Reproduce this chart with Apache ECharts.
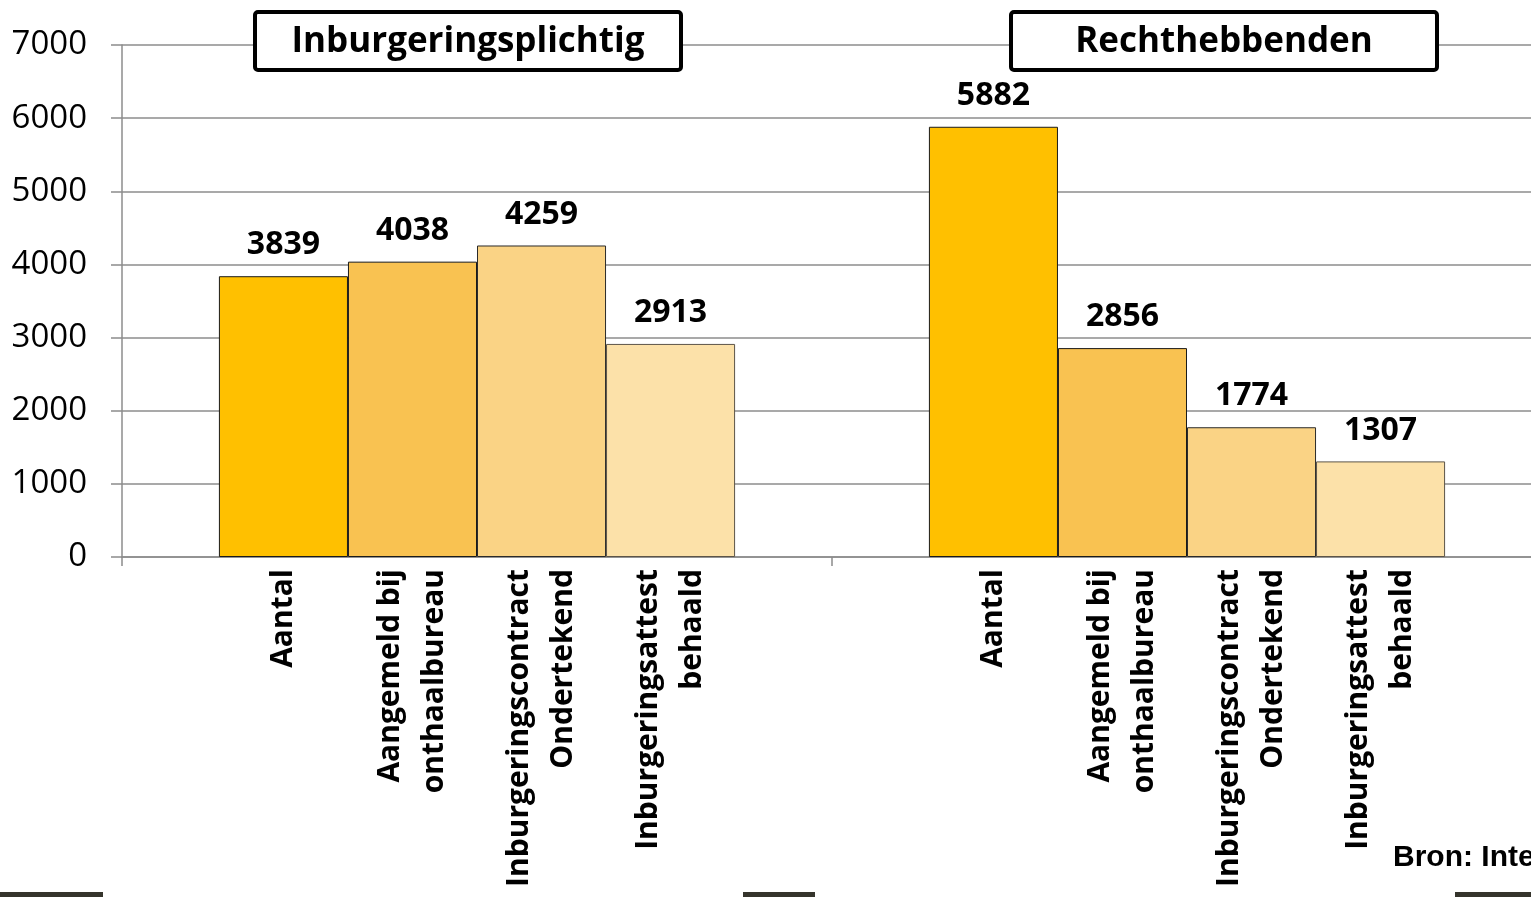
<!DOCTYPE html>
<html>
<head>
<meta charset="utf-8">
<script src="https://cdn.jsdelivr.net/npm/echarts@6/dist/echarts.min.js"></script>
<style>
html,body{margin:0;padding:0;background:#fff;overflow:hidden;}
#chart{width:1542px;height:897px;}
</style>
</head>
<body>
<div id="chart"></div>
<script>
// ---- data ----
const groups = ['Inburgeringsplichtig', 'Rechthebbenden'];
const measures = ['Aantal', 'Aangemeld bij\nonthaalbureau', 'Inburgeringscontract\nOndertekend', 'Inburgeringsattest\nbehaald'];
const aantal = [3839, 5882];
const aangemeld = [4038, 2856];
const contract = [4259, 1774];
const attest = [2913, 1307];
const yMin = 0, yMax = 7000, yStep = 1000;
const sourceText = 'Bron: Inte';

// ---- styles ----
const colors = ['#FFC000', '#F9C251', '#FAD385', '#FCE1A9'];
const borders = ['#1a1a1a', '#1a1a1a', '#2a2a2a', '#5c5448'];
const gridGrey = '#8c8c8c';
const values = [aantal, aangemeld, contract, attest];

const chart = echarts.init(document.getElementById('chart'), null, {renderer: 'canvas'});

const barSeries = measures.map((m, i) => ({
  name: m,
  type: 'bar',
  xAxisIndex: 0,
  data: values[i],
  barGap: '0%',
  barCategoryGap: '27.3%',
  itemStyle: {color: colors[i], borderColor: borders[i], borderWidth: 1},
  label: {
    show: true,
    position: 'top',
    distance: 15,
    color: '#000',
    fontFamily: 'Open Sans',
    fontWeight: 'bold',
    fontSize: 32
  },
  silent: true,
  z: 3
}));

const nameSeries = measures.map((m, i) => ({
  name: m + ' label',
  type: 'bar',
  xAxisIndex: 1,
  data: values[i],
  barGap: '0%',
  barCategoryGap: '27.3%',
  itemStyle: {color: 'rgba(0,0,0,0)'},
  label: {
    show: true,
    position: 'bottom',
    distance: 12,
    rotate: 90,
    align: 'right',
    verticalAlign: 'middle',
    formatter: () => m,
    color: '#000',
    fontFamily: 'Open Sans',
    fontWeight: 'bold',
    fontSize: 30,
    lineHeight: 44
  },
  silent: true,
  z: 4
}));

function titleBox(x, text) {
  return {
    type: 'group',
    z: 100,
    children: [
      {type: 'rect', shape: {x: x, y: 12, width: 426, height: 58, r: 3},
       style: {fill: '#fff', stroke: '#000', lineWidth: 4}, z: 100},
      {type: 'text', x: x + 213, y: 42, z: 101,
       style: {text: text, fill: '#000', font: 'bold 35px "Open Sans"', align: 'center', verticalAlign: 'middle'}}
    ]
  };
}

const option = {
  animation: false,
  backgroundColor: '#fff',
  grid: {left: 122, top: 45, bottom: 340, right: 0, containLabel: false},
  xAxis: [
    {
      type: 'category',
      data: groups,
      axisLine: {show: true, lineStyle: {color: gridGrey, width: 1.5}},
      axisTick: {show: true, length: 9, alignWithLabel: false, lineStyle: {color: gridGrey, width: 1.5}},
      axisLabel: {show: false},
      splitLine: {show: false}
    },
    {
      type: 'category',
      data: groups,
      show: false
    }
  ],
  yAxis: {
    type: 'value',
    min: yMin, max: yMax, interval: yStep,
    axisLine: {show: true, lineStyle: {color: gridGrey, width: 1.5}},
    axisTick: {show: true, length: 11, lineStyle: {color: gridGrey, width: 1.5}},
    axisLabel: {color: '#000', fontFamily: 'Open Sans', fontSize: 33, margin: 35, formatter: v => String(v)},
    splitLine: {show: true, lineStyle: {color: gridGrey, width: 1.5}}
  },
  series: barSeries.concat(nameSeries),
  graphic: [
    titleBox(255, groups[0]),
    titleBox(1011, groups[1]),
    {type: 'text', x: 1393, y: 858, z: 100,
     style: {text: sourceText, fill: '#000', font: 'bold 30px "Liberation Sans"', align: 'left', verticalAlign: 'middle'}},
    {type: 'rect', shape: {x: 0, y: 892, width: 103, height: 5}, style: {fill: '#35342c'}, z: 100},
    {type: 'rect', shape: {x: 743, y: 892, width: 72, height: 5}, style: {fill: '#35342c'}, z: 100},
    {type: 'rect', shape: {x: 1455, y: 892, width: 87, height: 5}, style: {fill: '#35342c'}, z: 100}
  ]
};
chart.setOption(option);
</script>
</body>
</html>
